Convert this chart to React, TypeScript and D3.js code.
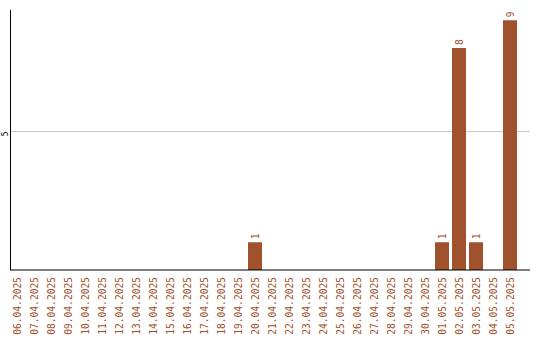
import React from "react";
import * as d3 from "d3";

const dates = [
  "06.04.2025", "07.04.2025", "08.04.2025", "09.04.2025", "10.04.2025",
  "11.04.2025", "12.04.2025", "13.04.2025", "14.04.2025", "15.04.2025",
  "16.04.2025", "17.04.2025", "18.04.2025", "19.04.2025", "20.04.2025",
  "21.04.2025", "22.04.2025", "23.04.2025", "24.04.2025", "25.04.2025",
  "26.04.2025", "27.04.2025", "28.04.2025", "29.04.2025", "30.04.2025",
  "01.05.2025", "02.05.2025", "03.05.2025", "04.05.2025", "05.05.2025",
];
const counts = [
  0, 0, 0, 0, 0, 0, 0, 0, 0, 0,
  0, 0, 0, 0, 1, 0, 0, 0, 0, 0,
  0, 0, 0, 0, 0, 1, 8, 1, 0, 9,
];
const yTicks = [5];

const W = 540;
const H = 340;
const BAR = "#a0522d";
const FONT = "'DejaVu Sans Mono', monospace";

export default function App() {
  const x = d3
    .scaleBand<string>()
    .domain(dates)
    .range([8.5, 518.5])
    .paddingInner(3 / 17)
    .paddingOuter(1.5 / 17);
  const y = d3.scaleLinear().domain([0, 9.37]).range([270, 10]);

  return (
    <div style={{ position: "fixed", left: 0, top: 0 }}>
      <svg width={W} height={H} style={{ display: "block", background: "#fff" }}>
        {yTicks.map((t) => (
          <g key={t}>
            <line x1={11} x2={530} y1={Math.round(y(t)) + 0.5} y2={Math.round(y(t)) + 0.5} stroke="#c8c8c8" strokeWidth={1} />
            <text
              transform={`translate(7.5,${y(t) + 2.5}) rotate(-90)`}
              textAnchor="middle"
              fontFamily={FONT}
              fontSize={8}
              fill="#000"
            >
              {t}
            </text>
          </g>
        ))}
        {dates.map((d, i) => {
          const v = counts[i];
          const cx = (x(d) as number) + x.bandwidth() / 2;
          return (
            <g key={d}>
              {v > 0 && (
                <>
                  <rect x={x(d)} y={y(v)} width={x.bandwidth()} height={y(0) - y(v)} fill={BAR} />
                  <text
                    transform={`translate(${cx + 3.5},${y(v) - 3}) rotate(-90)`}
                    textAnchor="start"
                    fontFamily={FONT}
                    fontSize={9.6}
                    fill={BAR}
                  >
                    {v}
                  </text>
                </>
              )}
              <text
                transform={`translate(${cx + 3.5},277) rotate(-90)`}
                textAnchor="end"
                fontFamily={FONT}
                fontSize={9.6}
                fill={BAR}
              >
                {d}
              </text>
            </g>
          );
        })}
        <line x1={10.5} x2={10.5} y1={10} y2={270} stroke="#000" strokeWidth={1} />
        <line x1={10} x2={530} y1={270} y2={270} stroke="#000" strokeWidth={1.2} />
      </svg>
    </div>
  );
}
